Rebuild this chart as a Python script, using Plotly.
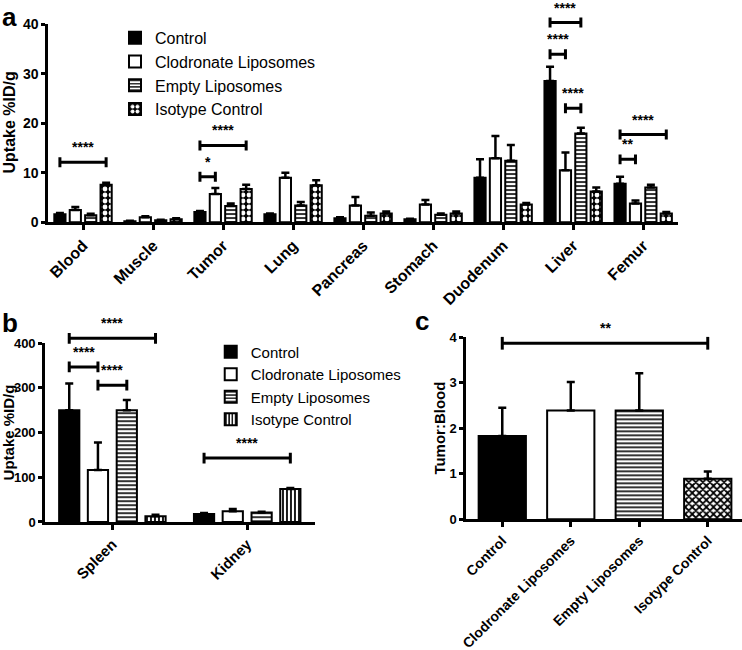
import plotly.graph_objects as go

# ---------------- data ----------------
groups = ["Control", "Clodronate Liposomes", "Empty Liposomes", "Isotype Control"]

organs_a = ["Blood", "Muscle", "Tumor", "Lung", "Pancreas", "Stomach", "Duodenum", "Liver", "Femur"]
a_control = [1.6, 0.2, 2.1, 1.6, 0.8, 0.6, 9.0, 28.5, 7.8]
a_control_err = [0.3, 0.1, 0.2, 0.2, 0.2, 0.1, 3.7, 2.9, 1.4]
a_clod = [2.5, 1.0, 5.7, 9.0, 3.4, 3.6, 12.9, 10.5, 3.8]
a_clod_err = [0.6, 0.2, 1.2, 1.0, 1.7, 0.9, 4.5, 3.6, 0.6]
a_empty = [1.4, 0.4, 3.3, 3.4, 1.3, 1.5, 12.4, 17.9, 7.0]
a_empty_err = [0.3, 0.1, 0.5, 0.7, 0.7, 0.3, 3.2, 1.2, 0.6]
a_iso = [7.6, 0.6, 6.7, 7.5, 1.8, 1.8, 3.6, 6.2, 1.8]
a_iso_err = [0.4, 0.2, 0.9, 1.0, 0.4, 0.4, 0.3, 0.8, 0.3]
a_ticks = [0, 10, 20, 30, 40]

organs_b = ["Spleen", "Kidney"]
b_control = [250, 18]
b_control_err = [60, 2]
b_clod = [116, 24]
b_clod_err = [62, 5]
b_empty = [250, 21]
b_empty_err = [23, 2]
b_iso = [13, 74]
b_iso_err = [3, 2]
b_ticks = [0, 100, 200, 300, 400]

c_values = [1.83, 2.39, 2.39, 0.89]
c_err = [0.62, 0.63, 0.82, 0.16]
c_ticks = [0, 1, 2, 3, 4]

# significance brackets: (category index, bar i, bar j, level, label)
sig_a = [(0, 0, 3, 12.1, "****"), (2, 0, 3, 15.5, "****"), (2, 0, 1, 9.2, "*"),
         (7, 0, 2, 40.3, "****"), (7, 0, 1, 33.9, "****"), (7, 1, 2, 23.0, "****"),
         (8, 0, 3, 17.7, "****"), (8, 0, 1, 12.7, "**")]
sig_b = [(0, 0, 3, 411, "****"), (0, 0, 1, 347, "****"), (0, 1, 2, 306, "****"),
         (1, 0, 3, 143, "****")]
sig_c = [(0, 3, 3.87, "**")]

# ---------------- styling ----------------
FONT = "Liberation Sans, Arial, Helvetica, sans-serif"
LW = 2.5
centers_a = [-0.33, -0.11, 0.11, 0.33]
width_a = 0.16
centers_b = [-0.32, -0.107, 0.107, 0.32]
width_b = 0.15

def pat(kind):
    if kind == "solid":
        return dict(color="black", pattern=dict(shape=""))
    if kind == "white":
        return dict(color="white", pattern=dict(shape=""))
    if kind == "hlines":
        return dict(color="white", pattern=dict(shape="-", fgcolor="black", bgcolor="white",
                                                size=4, solidity=0.4, fillmode="replace"))
    if kind == "vlines":
        return dict(color="white", pattern=dict(shape="|", fgcolor="black", bgcolor="white",
                                                size=4, solidity=0.45, fillmode="replace"))
    if kind == "dots_a":
        return dict(color="black", pattern=dict(shape=".", fgcolor="white", bgcolor="black",
                                                size=6, solidity=0.5, fillmode="replace"))
    if kind == "checker":
        return dict(color="white", pattern=dict(shape="x", fgcolor="black", bgcolor="white",
                                                size=5, solidity=0.6, fillmode="replace"))

fig = go.Figure()

def err(arr):
    return dict(type="data", symmetric=False, array=arr, arrayminus=[0] * len(arr),
                color="black", thickness=LW, width=4)

# panel a
a_vals = [a_control, a_clod, a_empty, a_iso]
a_errs = [a_control_err, a_clod_err, a_empty_err, a_iso_err]
a_styles = ["solid", "white", "hlines", "dots_a"]
for k in range(4):
    st = pat(a_styles[k])
    fig.add_trace(go.Bar(
        x=organs_a, y=a_vals[k], name=groups[k], xaxis="x", yaxis="y",
        offset=centers_a[k] - width_a / 2, width=width_a,
        marker=dict(color=st["color"], pattern=st["pattern"], line=dict(color="black", width=2)),
        error_y=err(a_errs[k]), legend="legend"))

# panel b
b_vals = [b_control, b_clod, b_empty, b_iso]
b_errs = [b_control_err, b_clod_err, b_empty_err, b_iso_err]
b_styles = ["solid", "white", "hlines", "vlines"]
for k in range(4):
    st = pat(b_styles[k])
    fig.add_trace(go.Bar(
        x=organs_b, y=b_vals[k], name=groups[k], xaxis="x2", yaxis="y2",
        offset=centers_b[k] - width_b / 2, width=width_b,
        marker=dict(color=st["color"], pattern=st["pattern"], line=dict(color="black", width=2)),
        error_y=err(b_errs[k]), legend="legend2"))

# panel c
c_styles = ["solid", "white", "hlines", "checker"]
for k in range(4):
    st = pat(c_styles[k])
    fig.add_trace(go.Bar(
        x=[groups[k]], y=[c_values[k]], xaxis="x3", yaxis="y3", width=0.69,
        marker=dict(color=st["color"], pattern=st["pattern"], line=dict(color="black", width=2)),
        error_y=err([c_err[k]]), showlegend=False))

# brackets
def bracket(xref, yref_dom, ymax, x0, x1, level, label, cap=0.025, star_shift=5, fsize=14):
    yd = level / ymax
    line = dict(color="black", width=3)
    fig.add_shape(type="line", xref=xref, yref=yref_dom, x0=x0, x1=x1, y0=yd, y1=yd, line=line)
    for xx in (x0, x1):
        fig.add_shape(type="line", xref=xref, yref=yref_dom, x0=xx, x1=xx,
                      y0=yd - cap, y1=yd + cap, line=line)
    fig.add_annotation(xref=xref, yref=yref_dom, x=(x0 + x1) / 2, y=yd, text=label,
                       showarrow=False, yanchor="bottom", yshift=star_shift,
                       font=dict(family=FONT, size=fsize, color="black", weight="bold"))

for ci, i, j, lev, lab in sig_a:
    bracket("x", "y domain", a_ticks[-1], ci + centers_a[i], ci + centers_a[j], lev, lab)
for ci, i, j, lev, lab in sig_b:
    bracket("x2", "y2 domain", b_ticks[-1], ci + centers_b[i], ci + centers_b[j], lev, lab,
            cap=0.03)
for i, j, lev, lab in sig_c:
    bracket("x3", "y3 domain", c_ticks[-1], i, j, lev, lab, cap=0.035)

def xax(domain, anchor, rng, size=15):
    return dict(domain=domain, anchor=anchor, range=rng, showline=True, linecolor="black",
                linewidth=LW, ticks="outside", ticklen=5, tickwidth=LW, tickcolor="black",
                tickangle=-45, tickfont=dict(family=FONT, size=size, color="black", weight="bold"),
                showgrid=False, zeroline=False, type="category", fixedrange=True,
                automargin=False)

def yax(domain, anchor, ticks, size):
    return dict(domain=domain, anchor=anchor, range=[ticks[0], ticks[-1]], tickvals=ticks,
                showline=True, linecolor="black", linewidth=LW, ticks="outside", ticklen=4,
                tickwidth=LW, tickcolor="black",
                tickfont=dict(family=FONT, size=size, color="black", weight="bold"),
                showgrid=False, zeroline=False, fixedrange=True, automargin=False)

fig.update_layout(
    width=742, height=650, margin=dict(l=0, r=0, t=0, b=0, pad=0, autoexpand=False),
    paper_bgcolor="white", plot_bgcolor="white", barmode="overlay",
    showlegend=True,
    xaxis=xax([0.0647, 0.914], "y", [-0.5, 8.5], 16),
    yaxis=yax([0.658, 0.963], "x", a_ticks, 14),
    xaxis2=xax([0.0606, 0.424], "y2", [-0.5, 1.5], 15),
    yaxis2=yax([0.197, 0.472], "x2", b_ticks, 13),
    xaxis3=xax([0.628, 1.0], "y3", [-0.53, 3.5], 14),
    yaxis3=yax([0.201, 0.481], "x3", c_ticks, 13),
    legend=dict(x=0.155, y=0.968, xanchor="left", yanchor="top", bgcolor="rgba(0,0,0,0)",
                font=dict(family=FONT, size=16, color="black"), tracegroupgap=0,
                itemwidth=30),
    legend2=dict(x=0.284, y=0.484, xanchor="left", yanchor="top", bgcolor="rgba(0,0,0,0)",
                 font=dict(family=FONT, size=15, color="black"), tracegroupgap=0,
                 itemwidth=30),
)

# panel letters and axis titles
for txt, x, y in [("a", 0.0, 1.0), ("b", 0.0, 0.53), ("c", 0.557, 0.533)]:
    fig.add_annotation(xref="paper", yref="paper", x=x, y=y, text=txt, showarrow=False,
                       xanchor="left", yanchor="top",
                       font=dict(family=FONT, size=26, color="black", weight="bold"))

for txt, x, y, size in [("Uptake %ID/g", 0.013, 0.811, 16), ("Uptake %ID/g", 0.011, 0.335, 15),
                        ("Tumor:Blood", 0.592, 0.341, 15)]:
    fig.add_annotation(xref="paper", yref="paper", x=x, y=y, text=txt, showarrow=False,
                       textangle=-90, xanchor="center", yanchor="middle",
                       font=dict(family=FONT, size=size, color="black", weight="bold"))

fig.write_html("out.html", post_script="document.body.style.margin='0px';",
               config={"displayModeBar": False})
